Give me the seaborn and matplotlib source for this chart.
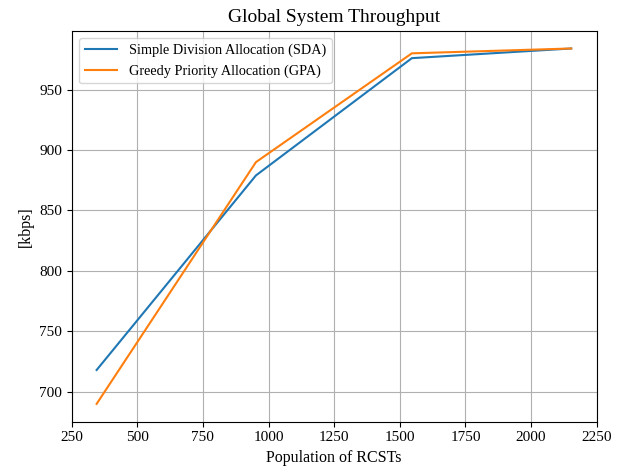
import matplotlib
matplotlib.use("Agg")
import matplotlib.pyplot as plt
import pandas as pd
import seaborn as sns

# Population of RCSTs
population = [345, 952, 1546, 2153]
# throughput in kbps
sda = [718, 879, 976, 984]
gpa = [690, 890, 980, 984]

labels = ["Simple Division Allocation (SDA)", "Greedy Priority Allocation (GPA)"]

df = pd.DataFrame({
    "population": population * 2,
    "throughput": sda + gpa,
    "scheme": [labels[0]] * len(sda) + [labels[1]] * len(gpa),
})

plt.rcParams["font.family"] = ["Liberation Serif", "DejaVu Serif"]
plt.rcParams["font.size"] = 11

fig, ax = plt.subplots(figsize=(6.18, 4.69), dpi=100)
sns.lineplot(
    data=df,
    x="population",
    y="throughput",
    hue="scheme",
    hue_order=labels,
    palette=["#1f77b4", "#ff7f0e"],
    linewidth=1.5,
    ax=ax,
)
ax.grid(True, color="#b0b0b0", linewidth=0.8)
ax.set_axisbelow(True)
ax.set_xlim(258, 2250)
ax.set_xticks([250, 500, 750, 1000, 1250, 1500, 1750, 2000, 2250])
ax.set_title("Global System Throughput", fontsize=14)
ax.set_xlabel("Population of RCSTs", fontsize=11.5)
ax.set_ylabel("[kbps]", fontsize=11.5)
ax.legend(title=None, loc="upper left", fontsize=10.3, handlelength=2.3,
          labelspacing=0.5)
fig.subplots_adjust(left=0.116, right=0.9655, bottom=0.101, top=0.9345)
plt.savefig("out.png")
